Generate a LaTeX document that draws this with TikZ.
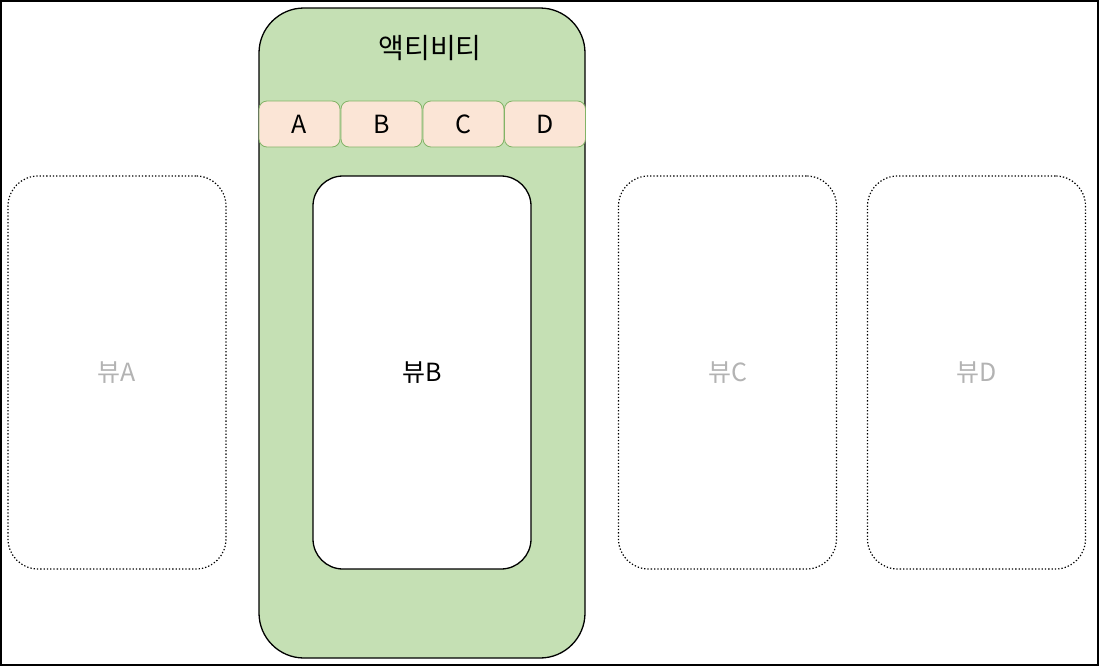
\documentclass[tikz,border=0pt]{standalone}
\usepackage{fontspec}
\setmainfont{Noto Sans CJK KR}
\definecolor{actgreen}{HTML}{C5E0B4}
\definecolor{tabfill}{HTML}{FBE5D6}
\definecolor{tabline}{HTML}{82B366}
\definecolor{ghost}{HTML}{B3B3B3}
\begin{document}
\begin{tikzpicture}[x=1pt,y=-1pt,
  txt/.style={font=\fontsize{25}{28}\selectfont},
  tabbox/.style={draw=tabline,fill=tabfill,rounded corners=8pt,line width=0.8pt,minimum width=81pt,minimum height=46pt,inner sep=0pt,txt},
  viewbox/.style={rounded corners=30pt,line width=1.3pt,minimum width=218pt,minimum height=393pt,inner sep=0pt,txt},
  ghostview/.style={viewbox,draw=black,dotted,line width=1.2pt,text=ghost}
]
\useasboundingbox (0,0) rectangle (1099,667);
\node[draw=black,line width=1.6pt,minimum width=1097pt,minimum height=664pt,inner sep=0pt] (frame) at (549.5,333) {};
\node[draw=black,fill=actgreen,rounded corners=45pt,line width=1.3pt,minimum width=326pt,minimum height=650pt,inner sep=0pt] (act) at (422,333) {};
\node[font=\fontsize{28}{30}\selectfont] (acttitle) at (430,48) {액티비티};
\node[tabbox] (tA) at (299.5,124) {A};
\node[tabbox] (tB) at (381.5,124) {B};
\node[tabbox] (tC) at (463.5,124) {C};
\node[tabbox] (tD) at (545,124) {D};
\node[viewbox,draw=black,fill=white] (vB) at (422,372.5) {뷰B};
\node[ghostview] (vA) at (117,372.5) {뷰A};
\node[ghostview] (vC) at (727.5,372.5) {뷰C};
\node[ghostview] (vD) at (976.5,372.5) {뷰D};
\end{tikzpicture}
\end{document}
